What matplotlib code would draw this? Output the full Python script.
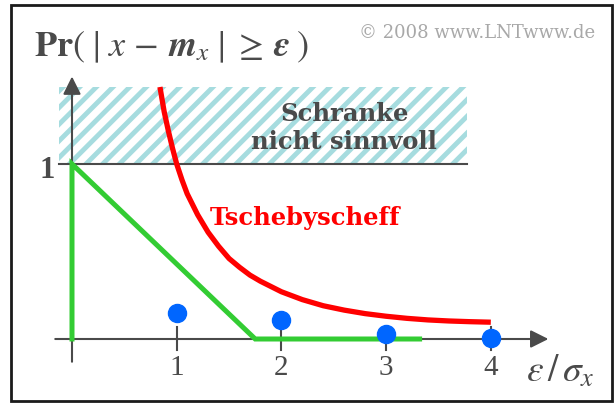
import numpy as np
import matplotlib.pyplot as plt
from matplotlib.patches import Rectangle

plt.rcParams['mathtext.fontset'] = 'stix'
plt.rcParams['hatch.linewidth'] = 3.5
plt.rcParams['hatch.color'] = '#a6dcdf'

# Chebyshev bound
cheb_eps = [0.84, 0.88, 0.92, 0.96, 1.0, 1.05, 1.1, 1.2, 1.3, 1.4, 1.5, 1.6, 1.7,
            1.8, 1.9, 2.0, 2.2, 2.4, 2.6, 2.8, 3.0, 3.2, 3.4, 3.6, 3.8, 4.0]
cheb_pr = [1.44, 1.30, 1.19, 1.09, 1.0, 0.91, 0.83, 0.71, 0.61, 0.53, 0.46, 0.41, 0.365,
           0.33, 0.30, 0.27, 0.225, 0.19, 0.165, 0.145, 0.13, 0.118, 0.109, 0.103, 0.099, 0.096]

# uniform distribution
uni_eps = [0, 0, 1.75, 3.32]
uni_pr = [0, 1, 0, 0]

# Gaussian values at integer multiples of sigma
gauss_k = [1, 2, 3, 4]
gauss_pr = [0.15, 0.11, 0.03, 0.005]

ticks = [1, 2, 3, 4]
tick_labels = ['1', '2', '3', '4']

gray = '#4a4a4a'
px_x, px_y = 104.7, 175.0   # pixels per unit
x0_px, y0_px = 72, 339      # origin in pixels
W, H = 615, 403

fig = plt.figure(figsize=(W / 100, H / 100), dpi=100)
ax = fig.add_axes([0, 0, 1, 1])
ax.set_xlim(-x0_px / px_x, (W - x0_px) / px_x)
ax.set_ylim((y0_px - H) / px_y, y0_px / px_y)
ax.axis('off')

# outer frame
fig.patches.append(Rectangle((11 / W, 1 - 401 / H), 601 / W, 396 / H,
                             transform=fig.transFigure, fill=False,
                             edgecolor='#1a1a1a', lw=2))

# region where the bound is useless
ax.add_patch(Rectangle((-0.125, 1), 3.895, 0.44, facecolor='none',
                       edgecolor='#a6dcdf', hatch='//', lw=0, zorder=1))
ax.plot([-0.125, 3.77], [1, 1], color=gray, lw=1.5, zorder=2)
ax.text(2.6, 1.205, 'Schranke\nnicht sinnvoll', ha='center', va='center',
        fontsize=17.5, fontweight='bold', family='DejaVu Serif',
        color=gray, linespacing=1.22, zorder=3)

# axes with arrows
arrow = dict(arrowstyle='-|>,head_length=0.6,head_width=0.3', mutation_scale=18,
             color=gray, lw=1.5, shrinkA=0, shrinkB=0)
ax.annotate('', xy=(4.55, 0), xytext=(-0.16, 0), arrowprops=arrow, zorder=2)
ax.annotate('', xy=(0, 1.50), xytext=(0, -0.13), arrowprops=arrow, zorder=2)
for t, lab in zip(ticks, tick_labels):
    ax.plot([t, t], [0.069, -0.063], color=gray, lw=1.5, zorder=2)
    ax.text(t, -0.165, lab, ha='center', va='center',
            fontsize=21, family='Liberation Serif', color=gray)
ax.text(-0.24, 0.96, '1', ha='center', va='center', fontsize=22,
        fontweight='bold', family='Liberation Serif', color=gray)

# curves
ax.plot(cheb_eps, cheb_pr, color='#ff0000', lw=3.8, solid_joinstyle='round',
        solid_capstyle='butt', zorder=4)
ax.plot(uni_eps, uni_pr, color='#33cc33', lw=3.6, solid_joinstyle='miter',
        zorder=3)
ax.plot(gauss_k, gauss_pr, 'o', color='#0066ff', ms=13, zorder=5)

ax.text(2.23, 0.69, 'Tschebyscheff', ha='center', va='center', fontsize=17.5,
        fontweight='bold', family='DejaVu Serif', color='#ff0000')

# labels
ax.text(-0.36, 1.665,
        '$\\mathbf{Pr}(\\;\u2223\\;x\\,-\\,\\mathbfit{m}_x\\;\u2223\\;\\geq\\,\\mathbfit{\\varepsilon}\\;)$',
        ha='left', va='center', fontsize=26, color=gray)
ax.text(4.34, -0.19, r'$\mathit{\varepsilon}\,/\,\mathit{\sigma}_x$', ha='left',
        va='center', fontsize=27, color=gray)
ax.text(3.87, 1.75, '© 2008 www.LNTwww.de', ha='center', va='center',
        fontsize=13, family='DejaVu Serif', color='#a8a8a8')

fig.savefig('out.png', dpi=100)
